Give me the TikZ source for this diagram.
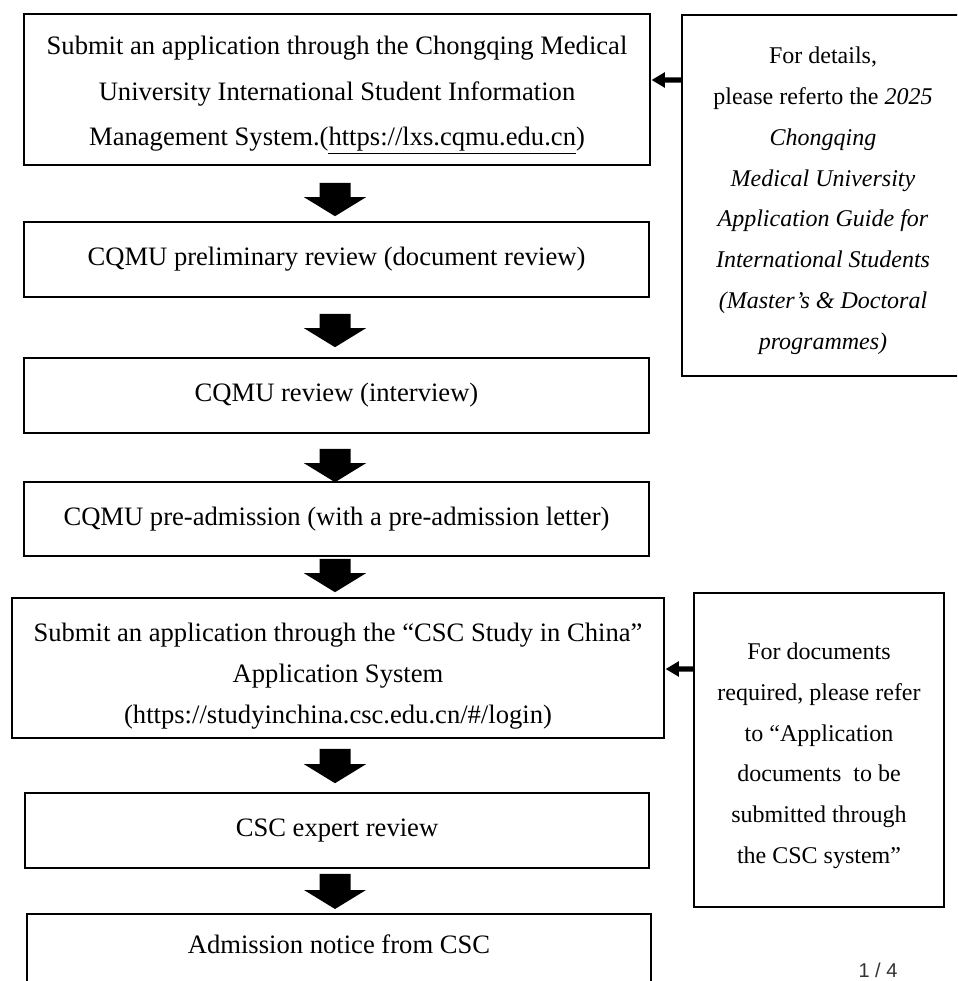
\documentclass[tikz,border=0pt]{standalone}
\usepackage{fontspec}
\setmainfont{Liberation Serif}
\newfontfamily\pagenumfont{Liberation Sans}
\usetikzlibrary{calc}
\tikzset{
  flowbox/.style={draw, line width=1.6pt, inner sep=0pt, align=center, font=\fontsize{26.6}{45.5}\selectfont},
  notebox/.style={draw, line width=1.6pt, inner sep=0pt, align=center, font=\fontsize{24}{40.8}\selectfont},
  arrowfill/.style={fill=black},
}
% #1 upper node, #2 lower node, #3 gap below upper, #4 gap above lower
\newcommand\blockdown[4]{%
  \fill[arrowfill] let \p1=(#1.south), \p2=(#2.north), \p3=(ax) in
    (\x3-15.5pt,\y1-#3pt) -- (\x3+15.5pt,\y1-#3pt) -- (\x3+15.5pt,\y2+#4pt+19pt)
    -- (\x3+31pt,\y2+#4pt+19pt) -- (\x3,\y2+#4pt) -- (\x3-31pt,\y2+#4pt+19pt)
    -- (\x3-15.5pt,\y2+#4pt+19pt) -- cycle;}
% #1 source node (right), #2 target node (left), #3 pixel y
\newcommand\blockleft[3]{%
  \fill[arrowfill] let \p1=(#2.east), \p2=(#1.west) in
    (\x2,-#3pt+2.6pt) -- (\x1+14pt,-#3pt+2.6pt) -- (\x1+14pt,-#3pt+7.8pt)
    -- (\x1+1pt,-#3pt) -- (\x1+14pt,-#3pt-7.8pt) -- (\x1+14pt,-#3pt-2.6pt)
    -- (\x2,-#3pt-2.6pt) -- cycle;}
\newcommand\topstrut[1]{\rule{0pt}{#1}}
\begin{document}
\begin{tikzpicture}[x=1pt,y=-1pt]
\useasboundingbox (0,0) rectangle (957,981);
\clip (0,0) rectangle (957,981);
\fill[white] (0,0) rectangle (957,981);
\coordinate (ax) at (335,0);

\node[flowbox, minimum width=626pt, minimum height=151pt] (b1) at (337,89.5)
  {\topstrut{29pt}Submit an application through the Chongqing Medical\\University International Student Information\\Management System.(\underline{https://lxs.cqmu.edu.cn})};
\node[flowbox, minimum width=625pt, minimum height=75pt] (b2) at (336.5,259.5)
  {CQMU preliminary review (document review)};
\node[flowbox, minimum width=625pt, minimum height=75pt] (b3) at (336.5,395.5)
  {CQMU review (interview)};
\node[flowbox, minimum width=625pt, minimum height=74pt] (b4) at (336.5,519)
  {CQMU pre-admission (with a pre-admission letter)};
\node[flowbox, font=\fontsize{26.6}{41}\selectfont, minimum width=652pt, minimum height=140pt] (b5) at (338,668)
  {\topstrut{34pt}Submit an application through the “CSC Study in China”\\Application System\\(https://studyinchina.csc.edu.cn/\#/login)};
\node[flowbox, minimum width=624pt, minimum height=75pt] (b6) at (337,830.5)
  {CSC expert review};
\node[flowbox, anchor=north, minimum width=624pt, text height=20pt, text depth=70pt, inner ysep=20pt] (b7) at (339,913)
  {Admission notice from CSC};

\node[notebox, minimum width=282pt, minimum height=361pt] (rA) at (823,195.5)
  {\topstrut{27pt}For details,\\please referto the \textit{2025}\\\textit{Chongqing}\\\textit{Medical University}\\\textit{Application Guide for}\\\textit{International Students}\\\textit{(Master’s \& Doctoral}\\\textit{programmes)}};
\node[notebox, minimum width=250pt, minimum height=314pt] (rB) at (819,750)
  {\topstrut{28pt}For documents\\required, please refer\\to “Application\\documents\ \ to be\\submitted through\\the CSC system”};

\blockdown{b1}{b2}{17}{5}
\blockdown{b2}{b3}{16}{10}
\blockdown{b3}{b4}{15}{-1}
\blockdown{b4}{b5}{2}{5}
\blockdown{b5}{b6}{10}{9}
\blockdown{b6}{b7}{5}{4}

\blockleft{rA}{b1}{80}
\blockleft{rB}{b5}{669}

\node[font=\pagenumfont\fontsize{20}{24}\selectfont, text=black!80, anchor=base, inner sep=0pt] (pg) at (878,977) {1 / 4};
\end{tikzpicture}
\end{document}
